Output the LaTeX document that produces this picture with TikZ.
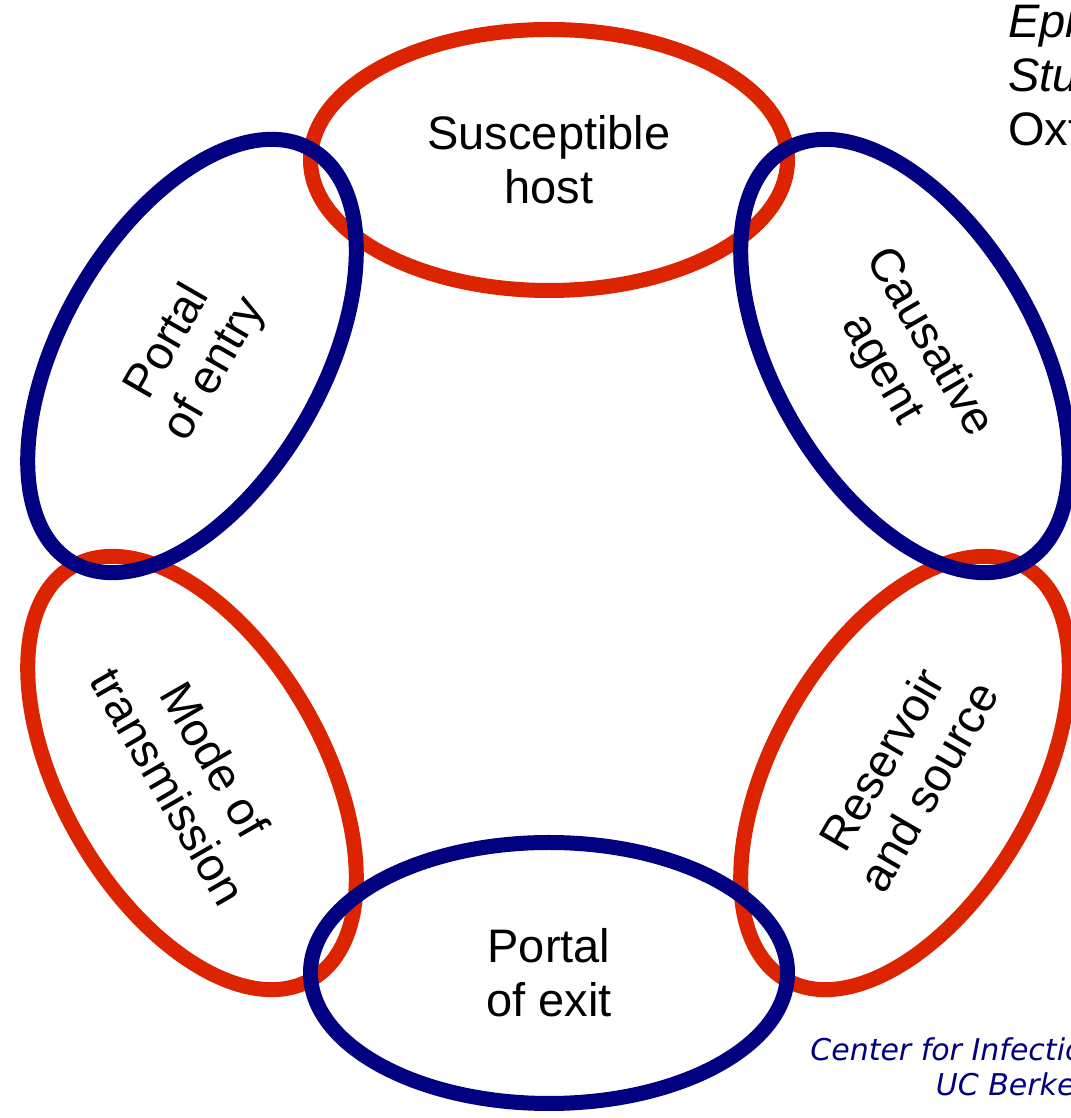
\documentclass[tikz,border=0pt]{standalone}
\usepackage{fontspec}
\setmainfont{Liberation Sans}
\newfontfamily\creditfont{DejaVu Sans}
\usetikzlibrary{shapes.geometric,positioning}
\definecolor{linkred}{RGB}{221,36,0}
\definecolor{linkblue}{RGB}{0,0,128}

\begin{document}
\begin{tikzpicture}[x=1pt,y=1pt,on grid,
    link/.style={ellipse,draw,line width=15pt,minimum width=477pt,minimum height=261pt,
      inner sep=0pt,align=center,font=\fontsize{47}{54}\selectfont},
    redlink/.style={link,draw=linkred},
    bluelink/.style={link,draw=linkblue},
    citation/.style={inner sep=0pt,align=left,font=\fontsize{47}{54}\selectfont},
    credit/.style={inner sep=0pt,align=center,text=linkblue,
      font=\creditfont\itshape\fontsize{30}{35}\selectfont}]
   \useasboundingbox (0,0) rectangle (1070,1118);
   % red links first, the blue ones lie on top of them
   \node[redlink] (host) at (549,958) {Susceptible\\host};
   \node[redlink,rotate=-60] (trans) [below left=613pt and 357pt of host] {Mode of\\transmission};
   \node[redlink,rotate=60] (source) [below right=613pt and 356pt of host] {Reservoir\\and source};
   \node[bluelink,rotate=60] (entry) [below left=196pt and 357pt of host] {Portal\\of entry};
   \node[bluelink,rotate=-60] (agent) [below right=196pt and 356pt of host] {Causative\\agent};
   \node[bluelink] (exit) [below=813pt of host] {Portal\\of exit};
   % texts cut by the page edge
   \node[citation,anchor=base west] (cite) at (1008,972) {\textit{Epidemiology}\\\textit{Study}\\Oxford};
   \node[credit,anchor=base] (credit) at (1028,23) {Center for Infectious Disease\\UC Berkeley};
\end{tikzpicture}
\end{document}
